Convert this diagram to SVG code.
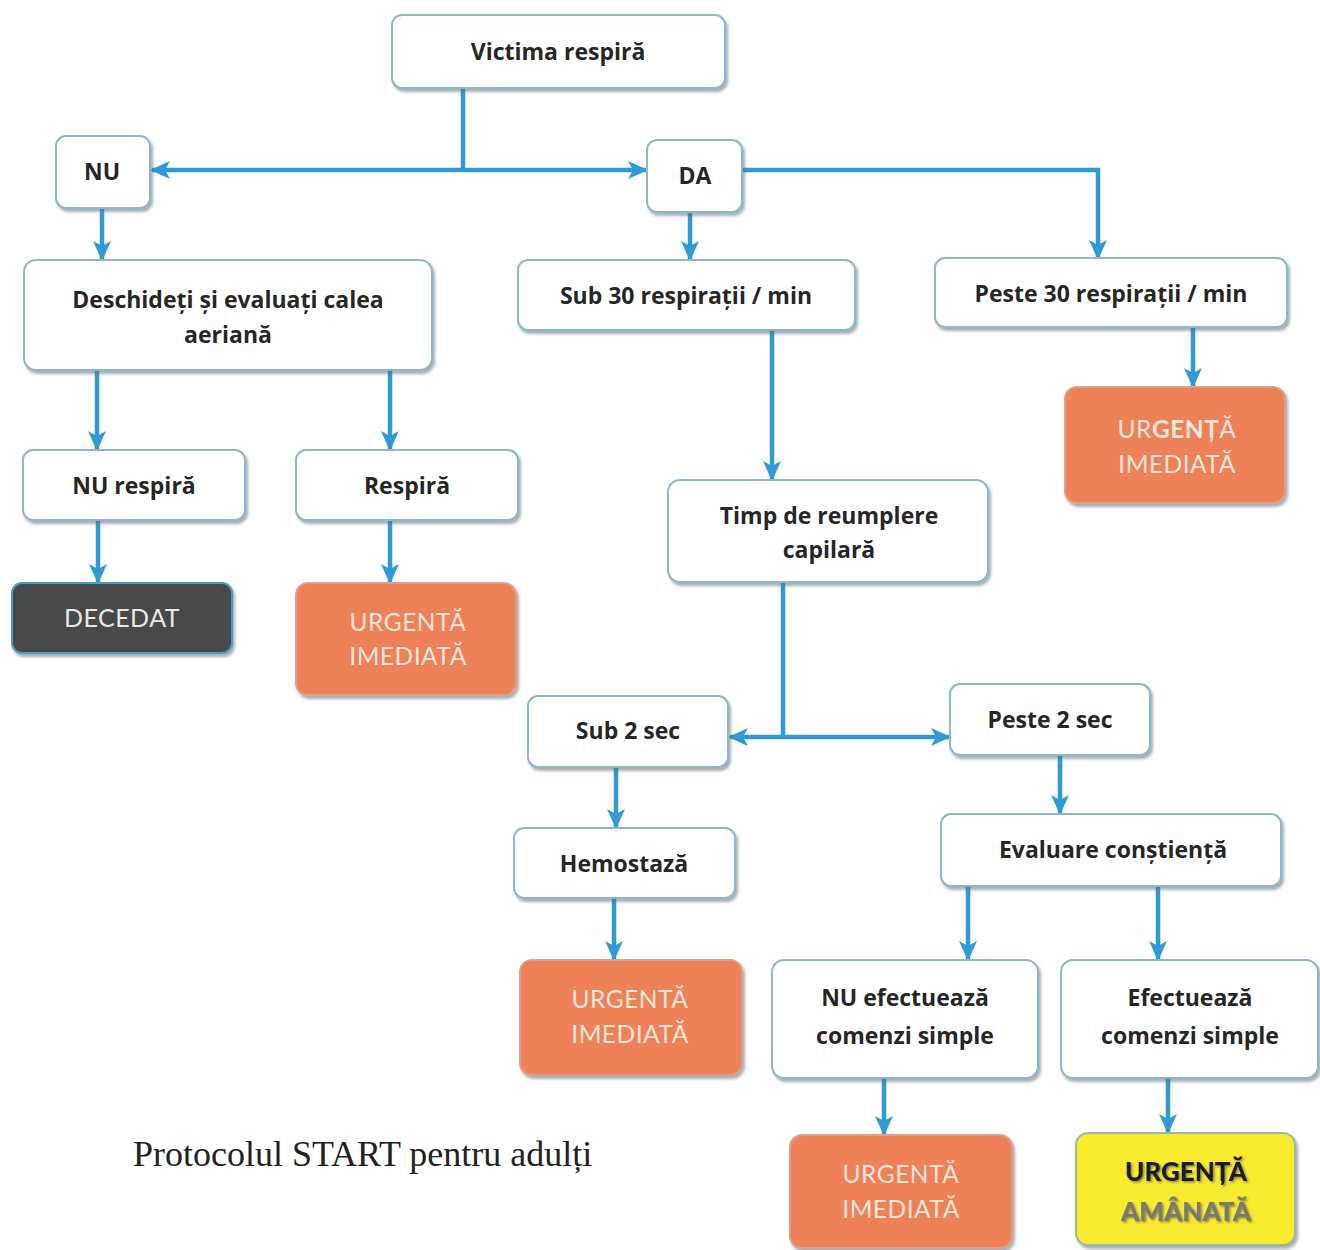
<svg xmlns="http://www.w3.org/2000/svg" width="1320" height="1250" viewBox="0 0 1320 1250">
  <defs>
    <filter id="shadow" x="-10%" y="-10%" width="125%" height="135%">
      <feDropShadow dx="2" dy="3" stdDeviation="1.8" flood-color="#5d6c74" flood-opacity="0.55"/>
    </filter>
    <filter id="txtshadow" x="-10%" y="-20%" width="130%" height="150%">
      <feDropShadow dx="1.5" dy="1.5" stdDeviation="0.8" flood-color="#555" flood-opacity="0.7"/>
    </filter>
    <marker id="arrow" viewBox="0 0 20 20" refX="18" refY="10" markerWidth="20" markerHeight="20" markerUnits="userSpaceOnUse" orient="auto-start-reverse">
      <path d="M0,1 L20,10 L0,19 L5,10 z" fill="#2f9ad6"/>
    </marker>
  </defs>
  <style>
    .box { fill: #ffffff; stroke: #8db7cc; stroke-width: 2; filter: url(#shadow); }
    .urg { fill: #ef8159; stroke: #d9a08a; stroke-width: 2; filter: url(#shadow); }
    .dead { fill: #4a4a4a; stroke: #4a9cc8; stroke-width: 2; filter: url(#shadow); }
    .yel { fill: #f9ec2e; stroke: #9ab8a8; stroke-width: 2; filter: url(#shadow); }
    .lbl { font-family: "Open Sans", Lato, "Liberation Sans", sans-serif; font-weight: 700; font-size: 23px; fill: #262626; text-anchor: middle; }
    .ulbl { font-family: Lato, "Open Sans", "Liberation Sans", sans-serif; font-weight: 400; font-size: 24.5px; fill: #fbe6da; text-anchor: middle; letter-spacing: 0.5px; }
    .dlbl { font-family: Lato, "Open Sans", "Liberation Sans", sans-serif; font-weight: 400; font-size: 25px; fill: #e8e8e8; text-anchor: middle; letter-spacing: 0.5px; }
    .ylbl { font-family: Lato, "Open Sans", "Liberation Sans", sans-serif; font-weight: 900; font-size: 26px; text-anchor: middle; filter: url(#txtshadow); }
    .cap { font-family: "Liberation Serif", "DejaVu Serif", serif; font-size: 36px; fill: #222; }
    .conn { fill: none; stroke: #2f9ad6; stroke-width: 4.5; }
  </style>

  <!-- connectors -->
  <g id="connectors">
    <path class="conn" d="M463,88 V170"/>
    <path class="conn" d="M463,170 H152" marker-end="url(#arrow)"/>
    <path class="conn" d="M463,170 H646" marker-end="url(#arrow)"/>
    <path class="conn" d="M742,170 H1098 V258" marker-end="url(#arrow)"/>
    <path class="conn" d="M690,212 V259" marker-end="url(#arrow)"/>
    <path class="conn" d="M102,208 V259" marker-end="url(#arrow)"/>
    <path class="conn" d="M97,370 V449" marker-end="url(#arrow)"/>
    <path class="conn" d="M390,370 V449" marker-end="url(#arrow)"/>
    <path class="conn" d="M98,520 V582" marker-end="url(#arrow)"/>
    <path class="conn" d="M390,520 V582" marker-end="url(#arrow)"/>
    <path class="conn" d="M772,330 V479" marker-end="url(#arrow)"/>
    <path class="conn" d="M1193,327 V386" marker-end="url(#arrow)"/>
    <path class="conn" d="M783,582 V737"/>
    <path class="conn" d="M783,737 H730" marker-end="url(#arrow)"/>
    <path class="conn" d="M783,737 H949" marker-end="url(#arrow)"/>
    <path class="conn" d="M616,767 V827" marker-end="url(#arrow)"/>
    <path class="conn" d="M1060,755 V813" marker-end="url(#arrow)"/>
    <path class="conn" d="M614,898 V959" marker-end="url(#arrow)"/>
    <path class="conn" d="M968,886 V959" marker-end="url(#arrow)"/>
    <path class="conn" d="M1158,886 V959" marker-end="url(#arrow)"/>
    <path class="conn" d="M884,1078 V1134" marker-end="url(#arrow)"/>
    <path class="conn" d="M1168,1078 V1132" marker-end="url(#arrow)"/>
  </g>

  <g id="n-victima">
    <rect class="box" x="392" y="15" width="333" height="73" rx="10"/>
    <text class="lbl" x="558" y="60">Victima respiră</text>
  </g>
  <g id="n-nu">
    <rect class="box" x="56" y="136" width="94" height="72" rx="10"/>
    <text class="lbl" x="102" y="180">NU</text>
  </g>
  <g id="n-da">
    <rect class="box" x="647" y="140" width="95" height="72" rx="10"/>
    <text class="lbl" x="695" y="184">DA</text>
  </g>
  <g id="n-deschideti">
    <rect class="box" x="24" y="260" width="408" height="110" rx="12"/>
    <text class="lbl" x="228" y="308">Deschideți și evaluați calea</text>
    <text class="lbl" x="228" y="343">aeriană</text>
  </g>
  <g id="n-sub30">
    <rect class="box" x="518" y="260" width="337" height="70" rx="10"/>
    <text class="lbl" x="686" y="304">Sub 30 respirații / min</text>
  </g>
  <g id="n-peste30">
    <rect class="box" x="935" y="258" width="352" height="69" rx="10"/>
    <text class="lbl" x="1111" y="302">Peste 30 respirații / min</text>
  </g>
  <g id="n-urg1">
    <rect class="urg" x="1065" y="387" width="220" height="116" rx="12"/>
    <text class="ulbl" x="1177" y="438">UR<tspan font-weight="700">GENȚ</tspan>Ă</text>
    <text class="ulbl" x="1177" y="473">IMEDIATĂ</text>
  </g>
  <g id="n-nurespira">
    <rect class="box" x="23" y="450" width="222" height="70" rx="10"/>
    <text class="lbl" x="134" y="494">NU respiră</text>
  </g>
  <g id="n-respira">
    <rect class="box" x="296" y="450" width="222" height="70" rx="10"/>
    <text class="lbl" x="407" y="494">Respiră</text>
  </g>
  <g id="n-decedat">
    <rect class="dead" x="12" y="583" width="220" height="70" rx="10"/>
    <text class="dlbl" x="122" y="627">DECEDAT</text>
  </g>
  <g id="n-urg2">
    <rect class="urg" x="296" y="583" width="220" height="112" rx="12"/>
    <text class="ulbl" x="408" y="631">URGENTĂ</text>
    <text class="ulbl" x="408" y="665">IMEDIATĂ</text>
  </g>
  <g id="n-timp">
    <rect class="box" x="668" y="480" width="320" height="102" rx="12"/>
    <text class="lbl" x="829" y="524">Timp de reumplere</text>
    <text class="lbl" x="829" y="558">capilară</text>
  </g>
  <g id="n-sub2">
    <rect class="box" x="528" y="696" width="200" height="71" rx="10"/>
    <text class="lbl" x="628" y="739">Sub 2 sec</text>
  </g>
  <g id="n-peste2">
    <rect class="box" x="950" y="684" width="200" height="71" rx="10"/>
    <text class="lbl" x="1050" y="728">Peste 2 sec</text>
  </g>
  <g id="n-hemostaza">
    <rect class="box" x="514" y="828" width="221" height="70" rx="10"/>
    <text class="lbl" x="624" y="872">Hemostază</text>
  </g>
  <g id="n-evaluare">
    <rect class="box" x="941" y="814" width="340" height="72" rx="10"/>
    <text class="lbl" x="1113" y="858">Evaluare conștiență</text>
  </g>
  <g id="n-urg3">
    <rect class="urg" x="520" y="960" width="222" height="115" rx="12"/>
    <text class="ulbl" x="630" y="1008">URGENTĂ</text>
    <text class="ulbl" x="630" y="1043">IMEDIATĂ</text>
  </g>
  <g id="n-nuefect">
    <rect class="box" x="772" y="960" width="266" height="118" rx="12"/>
    <text class="lbl" x="905" y="1006">NU efectuează</text>
    <text class="lbl" x="905" y="1044">comenzi simple</text>
  </g>
  <g id="n-efect">
    <rect class="box" x="1061" y="960" width="257" height="118" rx="12"/>
    <text class="lbl" x="1190" y="1006">Efectuează</text>
    <text class="lbl" x="1190" y="1044">comenzi simple</text>
  </g>
  <g id="n-urg4">
    <rect class="urg" x="790" y="1135" width="222" height="113" rx="12"/>
    <text class="ulbl" x="901" y="1183">URGENTĂ</text>
    <text class="ulbl" x="901" y="1218">IMEDIATĂ</text>
  </g>
  <g id="n-amanata">
    <rect class="yel" x="1076" y="1133" width="219" height="112" rx="12"/>
    <text class="ylbl" x="1186" y="1181" fill="#1e1e1e">URGENȚĂ</text>
    <text class="ylbl" x="1186" y="1221" fill="#7a7a72">AMÂNATĂ</text>
  </g>

  <text class="cap" x="133" y="1166">Protocolul START pentru adulți</text>
</svg>
